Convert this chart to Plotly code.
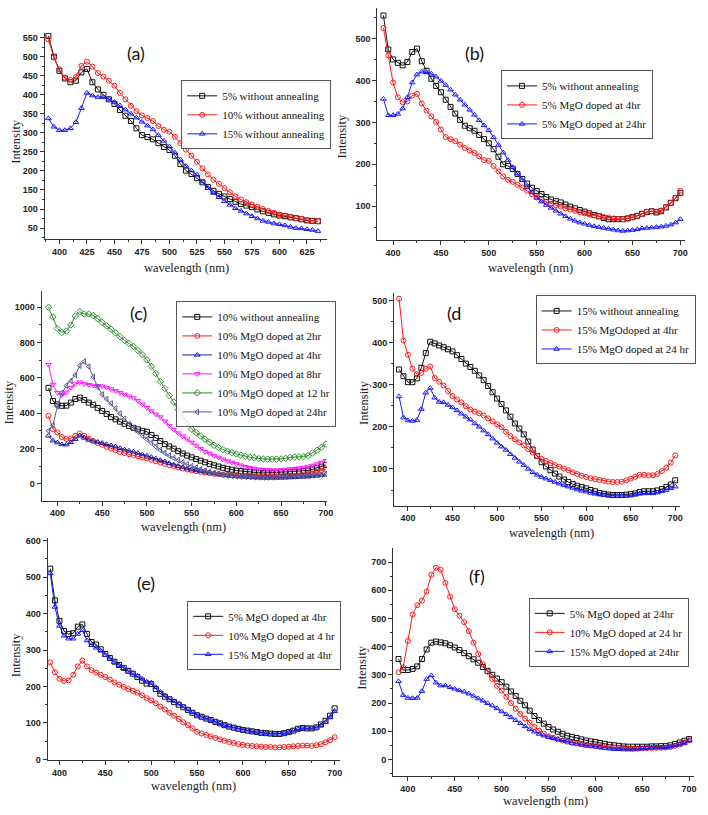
import plotly.graph_objects as go

W, H = 708, 815

# ---------------- data ----------------
WL_A = list(range(390, 640, 5))     # panel (a): 390..635 nm
WL = list(range(390, 705, 5))       # panels (b)-(f): 390..700 nm

# (a)
a_5_noann = [555, 500, 463, 443, 433, 437, 459, 468, 433, 414, 400, 388, 376, 360, 345, 331, 312, 294, 289, 283,
             273, 263, 255, 240, 218, 201, 192, 181, 170, 158, 148, 140, 133, 126, 119, 113, 109, 105, 99, 94,
             90, 86, 83, 81, 78, 76, 73, 70, 69, 68]
a_10_noann = [545, 498, 467, 445, 439, 447, 476, 487, 474, 457, 448, 437, 424, 405, 388, 371, 357, 346, 339, 331,
              318, 308, 303, 290, 273, 256, 240, 224, 207, 191, 177, 166, 155, 144, 133, 125, 118, 112, 106, 100,
              95, 90, 86, 83, 79, 76, 74, 71, 69, 68]
a_15_noann = [338, 316, 307, 307, 312, 328, 365, 405, 398, 394, 394, 389, 381, 372, 361, 350, 340, 329, 319, 309,
              294, 279, 264, 248, 230, 213, 201, 190, 172, 155, 142, 131, 120, 111, 102, 95, 88, 81, 75, 69,
              66, 62, 60, 57, 53, 50, 49, 47, 45, 42]

# (b)
b_5_noann = [555, 474, 450, 442, 436, 444, 468, 476, 446, 423, 404, 387, 372, 354, 337, 321, 306, 292, 286, 280,
             270, 260, 250, 236, 218, 200, 196, 189, 177, 165, 154, 144, 136, 129, 122, 116, 112, 109, 104, 99,
             95, 91, 87, 83, 79, 76, 72, 69, 69, 69, 69, 71, 74, 77, 82, 86, 88, 85, 88, 97,
             108, 119, 132]
b_5_4hr = [525, 460, 395, 360, 348, 350, 364, 368, 345, 328, 314, 301, 283, 265, 260, 255, 247, 239, 233, 227,
           219, 210, 208, 196, 183, 171, 163, 158, 151, 144, 137, 129, 121, 115, 110, 106, 102, 99, 95, 92,
           89, 86, 83, 80, 78, 76, 74, 73, 71, 70, 69, 70, 73, 77, 82, 87, 88, 87, 90, 98,
           108, 120, 137]
b_5_24hr = [356, 317, 317, 320, 333, 360, 395, 414, 421, 419, 416, 409, 399, 389, 378, 366, 354, 342, 330, 318,
            305, 293, 281, 264, 246, 228, 210, 193, 178, 162, 146, 133, 120, 111, 103, 96, 89, 82, 76, 70,
            65, 61, 58, 55, 52, 50, 48, 46, 44, 42, 41, 42, 43, 45, 47, 48, 49, 50, 51, 53,
            56, 61, 69]

# (c)
c_10_noann = [544, 469, 450, 442, 443, 460, 480, 488, 475, 460, 448, 430, 413, 396, 378, 365, 352, 340, 328, 317,
              309, 300, 295, 277, 260, 242, 225, 212, 199, 185, 172, 160, 150, 140, 131, 122, 113, 105, 98, 91,
              85, 80, 75, 72, 69, 67, 65, 63, 62, 62, 63, 64, 66, 67, 68, 69, 70, 72, 76, 82,
              89, 97, 107]
c_10_2hr = [385, 310, 291, 265, 254, 257, 272, 286, 272, 255, 242, 231, 221, 210, 199, 190, 181, 174, 168, 163,
            156, 150, 144, 136, 128, 120, 113, 106, 100, 93, 87, 81, 76, 72, 68, 64, 60, 57, 55, 52,
            50, 48, 47, 46, 45, 44, 43, 42, 41, 41, 42, 42, 43, 44, 45, 46, 47, 50, 55, 60,
            67, 75, 84]
c_10_4hr = [272, 244, 234, 223, 222, 235, 253, 272, 260, 249, 243, 237, 231, 224, 217, 211, 201, 193, 187, 181,
            174, 166, 159, 151, 143, 134, 126, 117, 108, 100, 93, 86, 80, 76, 72, 67, 63, 59, 55, 52,
            48, 45, 43, 41, 39, 37, 36, 35, 34, 34, 34, 34, 34, 35, 36, 37, 38, 40, 41, 43,
            46, 49, 53]
c_10_8hr = [675, 563, 516, 502, 518, 545, 565, 576, 566, 561, 557, 556, 553, 545, 537, 527, 516, 506, 496, 486,
            470, 450, 431, 412, 394, 378, 355, 330, 307, 287, 270, 253, 235, 217, 198, 182, 170, 158, 149, 139,
            129, 121, 113, 105, 97, 91, 87, 83, 80, 79, 78, 78, 79, 81, 84, 86, 89, 93, 98, 104,
            112, 121, 131]
c_10_12hr = [1000, 945, 880, 857, 865, 900, 950, 975, 962, 962, 953, 935, 914, 895, 876, 855, 833, 812, 795, 778,
             755, 732, 702, 665, 625, 580, 540, 500, 463, 420, 380, 344, 310, 290, 271, 253, 236, 218, 205, 194,
             184, 176, 169, 162, 156, 151, 147, 143, 141, 140, 140, 140, 141, 145, 150, 152, 153, 154, 160, 175,
             190, 207, 225]
c_10_24hr = [300, 331, 440, 515, 556, 583, 616, 670, 692, 664, 605, 548, 506, 480, 455, 427, 397, 368, 338, 315,
             295, 273, 252, 232, 210, 192, 175, 160, 146, 134, 122, 110, 100, 91, 83, 75, 68, 61, 56, 52,
             48, 45, 43, 41, 40, 39, 38, 37, 37, 37, 37, 38, 39, 40, 42, 43, 44, 45, 46, 48,
             50, 52, 55]

# (d)
d_15_noann = [336, 320, 306, 306, 315, 340, 375, 402, 398, 393, 389, 384, 379, 370, 361, 350, 342, 333, 322, 311,
              297, 282, 267, 254, 239, 224, 208, 196, 182, 165, 146, 131, 116, 106, 97, 89, 82, 75, 69, 64,
              60, 57, 54, 50, 47, 43, 41, 39, 38, 38, 38, 39, 40, 42, 45, 47, 47, 47, 49, 52,
              57, 63, 73]
d_15_4hr = [504, 405, 371, 338, 325, 328, 338, 343, 316, 307, 298, 285, 273, 265, 258, 249, 241, 236, 232, 227,
            220, 213, 206, 199, 188, 178, 170, 163, 156, 147, 139, 131, 124, 119, 114, 109, 105, 101, 97, 92,
            88, 84, 81, 78, 76, 74, 72, 70, 69, 69, 70, 73, 77, 81, 86, 86, 85, 85, 88, 95,
            103, 115, 132]
d_15_24hr = [272, 222, 215, 214, 216, 242, 281, 292, 269, 259, 258, 252, 246, 239, 231, 224, 217, 208, 200, 191,
             182, 172, 162, 153, 145, 135, 126, 117, 109, 100, 92, 86, 81, 77, 73, 69, 65, 61, 58, 55,
             51, 48, 46, 43, 41, 39, 38, 37, 36, 36, 36, 36, 37, 39, 41, 42, 42, 42, 44, 47,
             50, 54, 58]

# (e)
e_5_4hr = [523, 436, 380, 352, 344, 346, 364, 370, 344, 322, 315, 302, 289, 278, 268, 259, 251, 243, 235, 226,
           216, 208, 207, 193, 180, 172, 165, 157, 150, 143, 136, 128, 121, 117, 112, 108, 103, 99, 94, 90,
           87, 84, 81, 79, 77, 75, 73, 72, 71, 70, 70, 72, 75, 79, 84, 86, 85, 85, 88, 96,
           106, 120, 140]
e_10_4hr = [266, 239, 221, 215, 217, 232, 255, 271, 255, 245, 238, 232, 226, 219, 211, 205, 199, 193, 188, 183,
            176, 168, 162, 154, 145, 137, 128, 120, 111, 102, 94, 85, 76, 71, 67, 63, 59, 55, 51, 48,
            45, 42, 40, 38, 37, 36, 35, 34, 34, 33, 33, 34, 35, 36, 37, 38, 38, 37, 39, 42,
            47, 53, 61]
e_15_4hr = [510, 418, 366, 339, 331, 331, 344, 354, 326, 313, 306, 298, 286, 276, 267, 258, 250, 243, 236, 229,
            221, 213, 210, 198, 185, 175, 167, 160, 153, 145, 137, 129, 122, 117, 112, 107, 103, 99, 94, 90,
            87, 84, 81, 79, 77, 75, 73, 71, 70, 70, 70, 72, 75, 79, 83, 85, 85, 85, 87, 93,
            102, 115, 132]

# (f)
f_5_24hr = [356, 317, 317, 321, 330, 356, 390, 414, 418, 415, 412, 405, 397, 388, 377, 366, 355, 343, 328, 314,
            300, 287, 274, 258, 241, 225, 208, 192, 173, 154, 139, 127, 115, 106, 98, 91, 84, 80, 76, 71,
            67, 64, 62, 58, 55, 52, 50, 48, 46, 45, 45, 45, 45, 45, 46, 46, 47, 47, 50, 55,
            60, 66, 72]
f_10_24hr = [309, 326, 420, 514, 547, 563, 595, 655, 680, 673, 626, 577, 533, 510, 487, 455, 414, 374, 337, 311,
             285, 261, 244, 222, 200, 180, 161, 145, 130, 115, 102, 91, 82, 77, 71, 67, 63, 59, 57, 54,
             51, 49, 47, 45, 44, 43, 42, 41, 40, 39, 38, 38, 39, 40, 40, 41, 41, 42, 44, 48,
             53, 60, 68]
f_15_24hr = [277, 228, 218, 217, 218, 242, 285, 298, 272, 262, 262, 256, 250, 245, 240, 233, 225, 216, 208, 199,
             191, 181, 170, 160, 149, 139, 128, 117, 107, 98, 90, 84, 79, 75, 72, 68, 63, 58, 55, 52,
             49, 47, 45, 43, 40, 38, 36, 36, 35, 35, 35, 37, 38, 40, 41, 42, 42, 42, 45, 49,
             53, 58, 66]

# ---------------- styling ----------------
BLACK, RED, BLUE = "#111111", "#ff1a1a", "#1a1aff"
NAVY, MAGENTA, GREEN, SLATE = "#1f1fa8", "#ff1aff", "#2f8f2f", "#5a5a98"
SERIF = "Liberation Serif"


def fx(px):
    return px / W


def fy(py):
    return 1 - py / H


panels = [
    dict(k="", xd=(45, 330), yd=(30, 238), xr=[386.5, 643], yr=[21.4, 563], xt=25, yt=50, lg=(183, 78),
         x=WL_A, s=[("5% without annealing", a_5_noann, BLACK, "square-open"),
                    ("10% without annealing", a_10_noann, RED, "circle-open"),
                    ("15% without annealing", a_15_noann, BLUE, "triangle-up-open")]),
    dict(k="2", xd=(381, 692), yd=(5, 239), xr=[383.5, 705], yr=[19.5, 573], xt=50, yt=100, lg=(506, 68),
         x=WL, s=[("5% without annealing", b_5_noann, BLACK, "square-open"),
                  ("5% MgO doped at 4hr", b_5_4hr, RED, "circle-open"),
                  ("5% MgO doped at 24hr", b_5_24hr, BLUE, "triangle-up-open")]),
    dict(k="3", xd=(42, 330), yd=(290, 502), xr=[382.3, 701], yr=[-95.5, 1095], xt=50, yt=200, lg=(178, 301),
         x=WL, s=[("10% without annealing", c_10_noann, BLACK, "square-open"),
                  ("10% MgO doped at 2hr", c_10_2hr, RED, "circle-open"),
                  ("10% MgO doped at 4hr", c_10_4hr, NAVY, "triangle-up-open"),
                  ("10% MgO doped at 8hr", c_10_8hr, MAGENTA, "triangle-down-open"),
                  ("10% MgO doped at 12 hr", c_10_12hr, GREEN, "diamond-open"),
                  ("10% MgO doped at 24hr", c_10_24hr, SLATE, "triangle-left-open")]),
    dict(k="4", xd=(398, 687), yd=(293, 507), xr=[384.4, 705.6], yr=[12.9, 516.5], xt=50, yt=100, lg=(541, 295),
         x=WL, s=[("15% without annealing", d_15_noann, BLACK, "square-open"),
                  ("15% MgOdoped at 4hr", d_15_4hr, RED, "circle-open"),
                  ("15% MgO doped at 24 hr", d_15_24hr, BLUE, "triangle-up-open")]),
    dict(k="5", xd=(48, 343), yd=(540, 764), xr=[387, 705.4], yr=[-2.7, 606], xt=50, yt=100, lg=(189, 603),
         x=WL, s=[("5% MgO doped at 4hr", e_5_4hr, BLACK, "square-open"),
                  ("10% MgO doped at 4 hr", e_10_4hr, RED, "circle-open"),
                  ("15% MgO doped at 4hr", e_15_4hr, BLUE, "triangle-up-open")]),
    dict(k="6", xd=(397, 701), yd=(550, 780), xr=[384.2, 705.3], yr=[-60, 749], xt=50, yt=100, lg=(534, 600),
         x=WL, s=[("5% MgO doped at 24hr", f_5_24hr, BLACK, "square-open"),
                  ("10% MgO doped at 24 hr", f_10_24hr, RED, "circle-open"),
                  ("15% MgO doped at 24hr", f_15_24hr, BLUE, "triangle-up-open")]),
]

fig = go.Figure()
layout = dict(width=W, height=H, margin=dict(l=0, r=0, t=0, b=0),
              paper_bgcolor="white", plot_bgcolor="white", showlegend=True,
              font=dict(family=SERIF, size=11, color="#111111"))

tickfont = dict(family="Liberation Sans", size=9, color="#222222", weight="bold")

for p in panels:
    k = p["k"]
    xa, ya = "x" + k, "y" + k
    lgname = "legend" + k
    for name, vals, col, sym in p["s"]:
        fig.add_trace(go.Scatter(
            x=p["x"], y=vals, name=name, xaxis=xa, yaxis=ya, legend=lgname,
            mode="lines+markers",
            line=dict(color=col, width=1),
            marker=dict(symbol=sym, size=5, color=col, line=dict(width=1, color=col)),
        ))
    axcommon = dict(showline=True, linecolor="#333333", linewidth=1, ticks="outside", ticklen=4,
                    tickwidth=1, tickcolor="#333333", showgrid=False, zeroline=False, tickfont=tickfont,
                    mirror=False, ticklabeloverflow="allow")
    layout["xaxis" + k] = dict(domain=[fx(p["xd"][0]), fx(p["xd"][1])], range=p["xr"], anchor=ya,
                               tick0=400, dtick=p["xt"],
                               minor=dict(ticks="outside", ticklen=2, dtick=p["xt"] / 2, tickcolor="#333333"),
                               **axcommon)
    layout["yaxis" + k] = dict(domain=[fy(p["yd"][1]), fy(p["yd"][0])], range=p["yr"], anchor=xa,
                               tick0=0, dtick=p["yt"],
                               minor=dict(ticks="outside", ticklen=2, dtick=p["yt"] / 2, tickcolor="#333333"),
                               **axcommon)
    layout[lgname] = dict(x=fx(p["lg"][0]), y=fy(p["lg"][1]), xanchor="left", yanchor="top",
                          bgcolor="rgba(255,255,255,0.85)", bordercolor="#555555", borderwidth=1,
                          font=dict(family=SERIF, size=11, color="#111111"),
                          tracegroupgap=0, itemwidth=30)

ann = []
xtitles = [(188, 267), (536, 267), (185, 529), (557, 535), (195, 790), (551, 805)]
ytitles = [(16, 140), (345, 135), (9, 403), (367, 403), (17, 658), (366, 670)]
plabels = [("(a)", 137, 50), ("(b)", 479, 50), ("(c)", 140, 313), ("(d", 459, 313), ("(e)", 147, 585),
           ("(f)", 482, 578)]
for (x, y) in xtitles:
    ann.append(dict(text="wavelength (nm)", x=fx(x), y=fy(y), xref="paper", yref="paper", showarrow=False,
                    xanchor="center", yanchor="middle",
                    font=dict(family=SERIF, size=12.5, color="#222222")))
for (x, y) in ytitles:
    ann.append(dict(text="Intensity", x=fx(x), y=fy(y), xref="paper", yref="paper", showarrow=False,
                    textangle=-90, xanchor="center", yanchor="middle",
                    font=dict(family=SERIF, size=12.5, color="#222222")))
for (t, x, y) in plabels:
    ann.append(dict(text=t, x=fx(x), y=fy(y), xref="paper", yref="paper", showarrow=False,
                    xanchor="center", yanchor="middle",
                    font=dict(family="Lato", size=18, color="#111111")))
layout["annotations"] = ann

fig.update_layout(**layout)
fig.write_html("out.html", config={"displayModeBar": False},
               post_script="document.body.style.margin='0px';document.body.style.overflow='hidden';")
